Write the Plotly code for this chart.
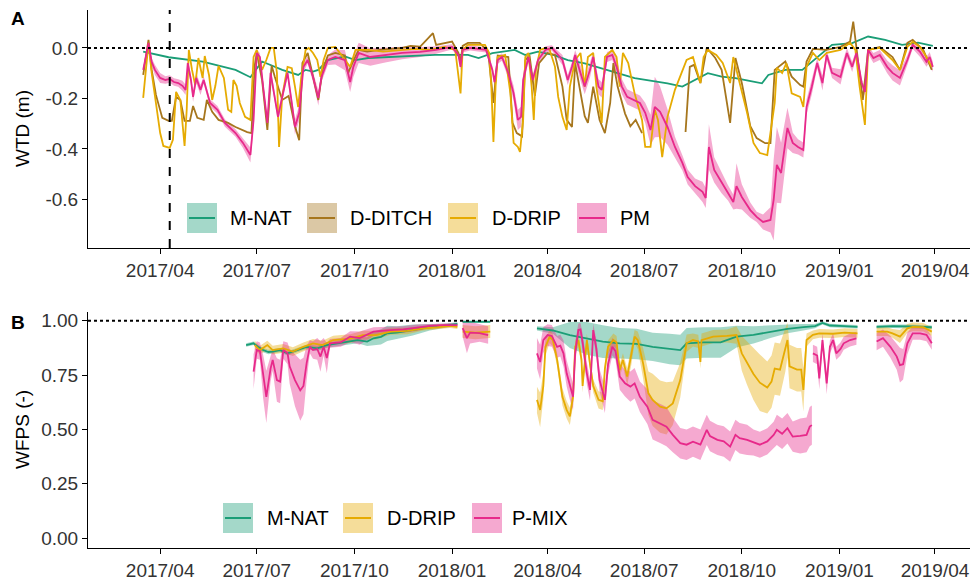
import plotly.graph_objects as go
import pandas as pd

BASE = pd.Timestamp("2017-04-01")  # day 0 of every *_day list

GREEN, BROWN, GOLD, PINK = "#1B9E77", "#A6761D", "#E6AB02", "#E7298A"
FONT = "Liberation Sans, Arial, sans-serif"

tick_dates = ["2017-04-01", "2017-07-01", "2017-10-01", "2018-01-01", "2018-04-01",
              "2018-07-01", "2018-10-01", "2019-01-01", "2019-04-01"]
tick_labels = ["2017/04", "2017/07", "2017/10", "2018/01", "2018/04",
               "2018/07", "2018/10", "2019/01", "2019/04"]

# ---------------- panel A : water table depth (m) ----------------
mnat_a_day = [-16, 8, 40, 71, 85, 90, 96, 115, 130, 137,
              144, 149, 158, 174, 184, 196, 228, 259, 290, 300,
              313, 334, 344, 356, 372, 384, 400, 416, 431, 447,
              463, 478, 492, 504, 516, 529, 542, 554, 567, 573,
              589, 605, 620, 633, 652, 667, 683, 699, 714, 728]
mnat_a_wtd = [-0.015, -0.037, -0.054, -0.087, -0.116, -0.087, -0.054, -0.087, -0.107, -0.087,
              -0.094, -0.087, -0.048, -0.034, -0.048, -0.040, -0.034, -0.028, -0.028, -0.040,
              -0.021, -0.008, -0.028, -0.015, -0.030, -0.048, -0.061, -0.080, -0.100, -0.120,
              -0.131, -0.140, -0.153, -0.127, -0.100, -0.114, -0.120, -0.130, -0.140, -0.107,
              -0.087, -0.087, -0.034, 0.012, 0.019, 0.045, 0.032, 0.012, 0.021, 0.008]

ditch_a_day = [-16, -11, -8, -4, 2, 8, 11, 15, 19, 23,
               28, 31, 35, 41, 44, 49, 55, 64, 71, 82,
               86, 89, 91, 96, 101, 105, 108, 115, 121, 127,
               131, 134, 139, 144, 149, 153, 158, 165, 174, 177,
               181, 187, 195, 207, 215, 228, 236, 245, 257, 260,
               275, 281, 283, 285, 290, 301, 309, 314, 318, 328,
               332, 336, 341, 344, 348, 353, 357, 365, 372, 379,
               383, 388, 391, 400, 403, 408, 414, 419, 424, 427,
               431, 438, 443, 448, 454, None, 495, 499, 503, 509,
               515, 523, 529, 537, 542, 548, 556, 562, 570, 575,
               579, 589, 595, 603, 606, 609, 615, 628, 641, 650,
               653, 656, 659, 662, 667, 678, 690, 697, 704, 709,
               719, 727]
ditch_a_wtd = [-0.107, 0.032, -0.087, -0.186, -0.277, -0.289, -0.289, -0.194, -0.206, -0.289,
               -0.289, -0.230, -0.277, -0.285, -0.206, -0.253, -0.285, -0.297, -0.313, -0.333,
               -0.337, -0.071, -0.020, -0.127, -0.325, -0.070, -0.114, -0.206, -0.190, -0.310,
               -0.365, -0.060, -0.020, -0.107, -0.206, -0.087, -0.030, -0.020, -0.030, -0.100,
               -0.060, -0.008, -0.015, -0.008, -0.004, 0.000, 0.008, 0.005, 0.058, 0.012,
               0.025, -0.020, -0.054, 0.008, 0.020, 0.020, -0.015, -0.218, -0.030, -0.036,
               -0.297, -0.337, -0.350, -0.048, -0.030, -0.190, -0.060, -0.020, -0.028, -0.153,
               -0.285, -0.313, -0.060, -0.270, -0.297, -0.153, -0.285, -0.337, -0.218, -0.060,
               -0.153, -0.260, -0.310, -0.285, -0.337, None, -0.333, -0.075, -0.067, -0.139,
               0.000, -0.040, -0.087, -0.297, -0.040, -0.139, -0.310, -0.357, -0.377, -0.377,
               -0.087, -0.054, -0.114, -0.147, -0.153, -0.054, -0.004, -0.008, 0.004, 0.025,
               0.104, 0.004, -0.114, -0.206, -0.008, 0.004, -0.036, -0.087, 0.020, 0.032,
               -0.008, -0.087]

drip_a_day = [-16, -11, -8, -4, 0, 3, 9, 12, 15, 19,
              23, 25, 27, 30, 33, 36, 40, 42, 46, 49,
              52, 55, 60, 64, 67, 69, 72, 75, 80, 85,
              88, 91, 96, 100, 104, 107, 110, 112, 115, 120,
              124, 127, 130, 133, 137, 140, 144, 148, 151, 154,
              158, 165, 174, 179, 184, 196, 210, 226, 240, 254,
              268, 278, 283, 285, 290, 306, 310, 312, 314, 316,
              318, 325, 330, 333, 337, 339, 342, 344, 347, 350,
              352, 354, 358, 363, 367, 372, 375, 379, 383, 386,
              391, 396, 400, 403, 408, 411, 416, 419, 426, 430,
              433, 436, 441, 447, 454, 457, 462, 466, 469, 473,
              476, 478, 485, 490, 496, 502, 509, 512, 516, 524,
              530, 537, 540, 546, 553, 559, 565, 572, 574, 579,
              581, 586, 590, 595, 603, 606, 609, 615, 621, 628,
              641, 650, 655, 659, 664, 667, 678, 690, 697, 704,
              709, 716, 722, 727]
drip_a_wtd = [-0.198, 0.020, -0.099, -0.226, -0.337, -0.388, -0.396, -0.364, -0.174, -0.206,
              -0.388, -0.245, -0.008, -0.087, -0.147, -0.040, -0.119, -0.032, -0.107, -0.206,
              -0.150, -0.071, -0.119, -0.245, -0.253, -0.127, -0.150, -0.218, -0.273, -0.285,
              -0.036, -0.008, -0.087, -0.048, 0.000, 0.000, -0.099, -0.392, -0.190, -0.075,
              -0.080, -0.153, -0.234, -0.115, -0.008, 0.000, -0.020, -0.048, -0.115, -0.048,
              0.000, 0.004, -0.048, -0.075, -0.008, -0.008, -0.015, -0.008, -0.004, -0.008,
              0.004, -0.008, -0.180, -0.008, 0.012, 0.012, -0.020, -0.153, -0.372, -0.153,
              -0.036, -0.028, -0.180, -0.376, -0.392, -0.412, -0.285, -0.036, -0.020, -0.153,
              -0.285, -0.087, -0.008, 0.000, -0.008, -0.075, -0.194, -0.273, -0.325, -0.153,
              -0.048, -0.020, -0.153, -0.036, -0.020, -0.153, -0.297, -0.036, -0.008, -0.036,
              -0.153, -0.020, -0.060, -0.180, -0.285, -0.392, -0.392, -0.245, -0.285, -0.432,
              -0.325, -0.273, -0.166, -0.115, -0.048, -0.036, -0.139, -0.036, -0.008, -0.028,
              -0.060, -0.139, -0.036, -0.139, -0.257, -0.376, -0.416, -0.424, -0.364, -0.218,
              -0.079, -0.099, -0.060, -0.180, -0.194, -0.234, -0.075, -0.020, -0.048, -0.020,
              -0.008, 0.020, -0.008, -0.153, -0.305, -0.008, 0.000, -0.048, -0.087, 0.004,
              0.024, 0.004, -0.036, -0.075]

pm_a_day = [-16, -11, -8, -5, 0, 5, 9, 13, 17, 21,
            24, 26, 29, 31, 34, 38, 41, 47, 54, 61,
            71, 78, 85, 88, 91, 94, 97, 101, 104, 108,
            111, 115, 120, 124, 127, 131, 135, 139, 144, 149,
            152, 158, 165, 174, 179, 182, 187, 198, 212, 228,
            245, 260, 275, 281, 283, 285, 292, 307, 313, 315,
            318, 322, 328, 333, 337, 340, 342, 347, 351, 356,
            363, 369, 379, 384, 388, 391, 396, 400, 405, 408,
            413, 416, 421, 426, 430, 435, 440, 446, 452, 457,
            462, 466, 471, 478, 485, 492, 497, 504, 511, 514,
            517, 522, 529, 535, 540, 543, 548, 556, 562, 568,
            575, 578, 581, 585, 591, 596, 601, 606, 609, 614,
            619, 624, 628, 633, 641, 647, 652, 656, 661, 664,
            667, 672, 678, 685, 690, 697, 704, 709, 716, 722,
            725, 728]
pm_a_wtd = [-0.087, 0.020, -0.055, -0.087, -0.119, -0.127, -0.123, -0.135, -0.139, -0.150,
            -0.166, -0.060, -0.127, -0.194, -0.119, -0.166, -0.127, -0.218, -0.245, -0.297,
            -0.337, -0.376, -0.424, -0.285, -0.020, -0.036, -0.153, -0.297, -0.099, -0.194,
            -0.273, -0.194, -0.099, -0.218, -0.313, -0.257, -0.075, -0.048, -0.115, -0.198,
            -0.115, -0.048, -0.036, -0.048, -0.135, -0.075, -0.020, -0.036, -0.028, -0.020,
            -0.016, -0.008, 0.004, -0.028, -0.075, -0.008, 0.000, -0.008, -0.087, -0.135,
            -0.048, -0.036, -0.099, -0.180, -0.285, -0.273, -0.127, -0.036, -0.127, -0.048,
            -0.008, 0.000, -0.048, -0.127, -0.075, -0.028, -0.099, -0.153, -0.087, -0.036,
            -0.153, -0.166, -0.036, -0.028, -0.075, -0.153, -0.194, -0.206, -0.218, -0.257,
            -0.325, -0.234, -0.253, -0.313, -0.392, -0.455, -0.511, -0.547, -0.570, -0.594,
            -0.392, -0.483, -0.535, -0.574, -0.610, -0.547, -0.590, -0.642, -0.669, -0.689,
            -0.681, -0.602, -0.463, -0.495, -0.317, -0.376, -0.392, -0.404, -0.234, -0.153,
            -0.060, -0.139, -0.028, -0.099, -0.115, -0.020, -0.075, -0.020, -0.139, -0.174,
            -0.008, -0.040, -0.028, -0.075, -0.099, -0.119, -0.048, 0.012, -0.016, -0.055,
            -0.036, -0.075]
pm_a_sd = [0.010, 0.010, 0.015, 0.020, 0.020, 0.015, 0.015, 0.015, 0.015, 0.020,
           0.020, 0.015, 0.020, 0.020, 0.020, 0.020, 0.015, 0.015, 0.015, 0.015,
           0.015, 0.020, 0.030, 0.030, 0.015, 0.015, 0.020, 0.020, 0.020, 0.020,
           0.020, 0.020, 0.015, 0.020, 0.030, 0.030, 0.020, 0.015, 0.020, 0.030,
           0.020, 0.020, 0.030, 0.040, 0.040, 0.040, 0.040, 0.035, 0.030, 0.025,
           0.020, 0.015, 0.010, 0.010, 0.015, 0.010, 0.010, 0.010, 0.015, 0.015,
           0.015, 0.015, 0.020, 0.030, 0.040, 0.040, 0.030, 0.015, 0.020, 0.015,
           0.015, 0.010, 0.020, 0.020, 0.020, 0.020, 0.030, 0.030, 0.030, 0.020,
           0.030, 0.030, 0.020, 0.020, 0.030, 0.030, 0.030, 0.030, 0.030, 0.040,
           0.060, 0.120, 0.100, 0.070, 0.040, 0.030, 0.030, 0.030, 0.040, 0.040,
           0.090, 0.050, 0.040, 0.030, 0.030, 0.090, 0.050, 0.030, 0.020, 0.030,
           0.050, 0.160, 0.150, 0.120, 0.080, 0.040, 0.030, 0.030, 0.030, 0.030,
           0.020, 0.030, 0.020, 0.020, 0.030, 0.020, 0.020, 0.015, 0.015, 0.015,
           0.015, 0.020, 0.020, 0.025, 0.030, 0.030, 0.020, 0.015, 0.020, 0.020,
           0.020, 0.020]

# ---------------- panel B : water-filled pore space (-) ----------------
mnat_b_day = [81, 88, 92, 97, 102, 106, 113, 120, 129, 138,
              148, 157, 167, 176, 186, 195, 201, 208, 214, 223,
              238, 254, 267, 280, None, 285, 311, None, 355, 370,
              386, 402, 417, 433, 449, 464, 480, 490, 496, 512,
              528, 543, 559, 575, 591, 606, 617, 624, 631, 645,
              657, None, 675, 690, 706, 727]
mnat_b_wfps = [0.888, 0.896, 0.880, 0.865, 0.856, 0.858, 0.865, 0.850, 0.865, 0.880,
               0.873, 0.888, 0.896, 0.904, 0.911, 0.904, 0.919, 0.926, 0.942, 0.945,
               0.957, 0.970, 0.976, 0.985, None, 0.995, 0.995, None, 0.965, 0.955,
               0.934, 0.919, 0.904, 0.896, 0.893, 0.880, 0.870, 0.865, 0.896, 0.900,
               0.900, 0.927, 0.935, 0.950, 0.962, 0.970, 0.975, 0.990, 0.978, 0.975,
               0.972, None, 0.972, 0.975, 0.974, 0.970]
mnat_b_sd = [0.008, 0.008, 0.008, 0.010, 0.010, 0.010, 0.010, 0.010, 0.010, 0.010,
             0.012, 0.012, 0.012, 0.015, 0.015, 0.020, 0.030, 0.035, 0.035, 0.030,
             0.025, 0.015, 0.010, 0.008, None, 0.005, 0.005, None, 0.010, 0.015,
             0.060, 0.075, 0.075, 0.070, 0.070, 0.065, 0.070, 0.070, 0.070, 0.070,
             0.070, 0.050, 0.040, 0.030, 0.020, 0.015, 0.010, 0.008, 0.008, 0.008,
             0.008, None, 0.008, 0.008, 0.008, 0.008]

drip_b_day = [89, 94, 101, 106, 116, 125, 135, 144, 153, 163,
              179, 191, 203, 217, 233, 248, 261, 273, 280, None,
              285, 297, 311, None, 355, 358, 361, 363, 367, 370,
              374, 379, 383, 386, 389, 391, 394, 397, 398, 402,
              405, 408, 413, 417, 419, 422, 427, 430, 433, 436,
              440, 444, 447, 450, 455, 460, 464, 471, 477, 483,
              490, 496, 502, 507, 509, 510, 521, 534, 543, 548,
              553, 559, 565, 572, 576, 579, 584, 589, 591, 593,
              600, 604, 606, 609, 615, 621, 634, 645, 657, None,
              675, 685, 690, 697, 704, 709, 719, 725, 727]
drip_b_wfps = [0.888, 0.865, 0.888, 0.865, 0.873, 0.858, 0.880, 0.896, 0.888, 0.911,
               0.918, 0.934, 0.934, 0.950, 0.953, 0.965, 0.970, 0.976, 0.972, None,
               0.950, 0.945, 0.950, None, 0.636, 0.590, 0.700, 0.880, 0.927, 0.910,
               0.820, 0.650, 0.590, 0.560, 0.650, 0.880, 0.911, 0.820, 0.700, 0.911,
               0.800, 0.700, 0.636, 0.630, 0.780, 0.880, 0.911, 0.900, 0.773, 0.820,
               0.743, 0.840, 0.927, 0.910, 0.804, 0.666, 0.636, 0.605, 0.597, 0.620,
               0.727, 0.896, 0.911, 0.905, 0.810, 0.911, 0.927, 0.930, 0.934, 0.850,
               0.804, 0.755, 0.715, 0.693, 0.720, 0.780, 0.775, 0.865, 0.911, 0.790,
               0.775, 0.775, 0.682, 0.911, 0.935, 0.942, 0.940, 0.945, 0.942, None,
               0.950, 0.950, 0.942, 0.927, 0.965, 0.972, 0.970, 0.955, 0.950]
drip_b_sd = [0.020, 0.020, 0.020, 0.020, 0.020, 0.020, 0.020, 0.020, 0.020, 0.020,
             0.020, 0.020, 0.020, 0.015, 0.015, 0.010, 0.010, 0.010, 0.010, None,
             0.030, 0.030, 0.030, None, 0.060, 0.080, 0.060, 0.040, 0.030, 0.030,
             0.030, 0.040, 0.040, 0.040, 0.040, 0.030, 0.030, 0.030, 0.030, 0.030,
             0.030, 0.030, 0.040, 0.040, 0.030, 0.030, 0.030, 0.030, 0.030, 0.030,
             0.040, 0.040, 0.030, 0.040, 0.070, 0.100, 0.120, 0.120, 0.120, 0.100,
             0.080, 0.040, 0.030, 0.030, 0.030, 0.030, 0.030, 0.030, 0.040, 0.080,
             0.100, 0.120, 0.130, 0.120, 0.120, 0.120, 0.120, 0.100, 0.080, 0.100,
             0.100, 0.100, 0.100, 0.030, 0.020, 0.020, 0.020, 0.020, 0.020, None,
             0.020, 0.020, 0.020, 0.030, 0.020, 0.020, 0.020, 0.020, 0.020]

pmix_b_day = [88, 91, 94, 97, 100, 104, 106, 110, 113, 116,
              120, 122, 127, 132, 135, 138, 141, 144, 148, 151,
              154, 157, 160, 170, 179, 188, 201, 217, 229, 242,
              254, 267, 280, None, 285, 289, 292, 301, 309, None,
              355, 358, 361, 365, 369, 374, 377, 380, 383, 386,
              389, 391, 394, 396, 398, 402, 405, 407, 408, 411,
              414, 419, 422, 426, 429, 433, 438, 443, 447, 452,
              459, 464, 471, 477, 483, 490, 496, 502, 509, 515,
              518, 525, 531, 537, 542, 546, 553, 559, 565, 572,
              578, 581, 586, 591, 596, 603, 609, 612, 614, None,
              615, 619, 621, 624, 628, 631, 634, 637, 641, 644,
              650, 656, None, 675, 681, 688, 694, 697, 700, 704,
              709, 716, 722, 727]
pmix_b_wfps = [0.766, 0.865, 0.860, 0.743, 0.650, 0.780, 0.820, 0.727, 0.720, 0.865,
               0.850, 0.790, 0.727, 0.680, 0.700, 0.805, 0.880, 0.865, 0.870, 0.835,
               0.880, 0.828, 0.896, 0.900, 0.927, 0.920, 0.950, 0.957, 0.960, 0.968,
               0.976, 0.980, 0.980, None, 0.966, 0.920, 0.945, 0.943, 0.934, None,
               0.850, 0.810, 0.911, 0.934, 0.930, 0.880, 0.885, 0.850, 0.758, 0.697,
               0.650, 0.850, 0.957, 0.960, 0.900, 0.758, 0.682, 0.850, 0.957, 0.870,
               0.727, 0.636, 0.800, 0.880, 0.860, 0.743, 0.712, 0.697, 0.712, 0.650,
               0.605, 0.544, 0.528, 0.513, 0.475, 0.437, 0.430, 0.444, 0.430, 0.498,
               0.470, 0.452, 0.445, 0.421, 0.475, 0.460, 0.452, 0.440, 0.430, 0.445,
               0.475, 0.498, 0.480, 0.506, 0.467, 0.470, 0.475, 0.513, 0.520, None,
               0.850, 0.840, 0.735, 0.911, 0.712, 0.880, 0.911, 0.850, 0.870, 0.896,
               0.911, 0.919, None, 0.904, 0.920, 0.880, 0.835, 0.796, 0.800, 0.896,
               0.942, 0.942, 0.935, 0.896]
pmix_b_sd = [0.080, 0.040, 0.040, 0.100, 0.120, 0.060, 0.050, 0.100, 0.100, 0.040,
             0.050, 0.080, 0.120, 0.140, 0.130, 0.080, 0.030, 0.040, 0.050, 0.070,
             0.040, 0.070, 0.020, 0.020, 0.025, 0.030, 0.020, 0.015, 0.015, 0.015,
             0.010, 0.010, 0.010, None, 0.040, 0.070, 0.050, 0.040, 0.040, None,
             0.070, 0.080, 0.060, 0.050, 0.050, 0.050, 0.050, 0.060, 0.060, 0.060,
             0.060, 0.050, 0.030, 0.030, 0.040, 0.050, 0.050, 0.040, 0.030, 0.040,
             0.050, 0.060, 0.050, 0.040, 0.040, 0.060, 0.060, 0.070, 0.070, 0.070,
             0.080, 0.090, 0.090, 0.090, 0.080, 0.070, 0.070, 0.070, 0.070, 0.070,
             0.070, 0.070, 0.070, 0.070, 0.070, 0.070, 0.070, 0.060, 0.060, 0.060,
             0.060, 0.070, 0.070, 0.070, 0.070, 0.080, 0.080, 0.090, 0.090, None,
             0.040, 0.040, 0.050, 0.030, 0.050, 0.030, 0.030, 0.030, 0.030, 0.030,
             0.030, 0.030, None, 0.040, 0.040, 0.050, 0.060, 0.080, 0.070, 0.050,
             0.030, 0.030, 0.030, 0.030]


def fill(hex_color, a=0.4):
    h = hex_color.lstrip("#")
    return f"rgba({int(h[0:2], 16)},{int(h[2:4], 16)},{int(h[4:6], 16)},{a})"


def dates(days):
    return [None if d is None else BASE + pd.Timedelta(days=d) for d in days]


def add_ribbon(fig, days, vals, sd, color, ax):
    seg = []
    for d, v, s in list(zip(days, vals, sd)) + [(None, None, None)]:
        if d is not None:
            seg.append((d, v, s))
            continue
        if seg:
            xs = [BASE + pd.Timedelta(days=p[0]) for p in seg]
            hi = [p[1] + p[2] for p in seg]
            lo = [p[1] - p[2] for p in seg]
            fig.add_trace(go.Scatter(
                x=xs + xs[::-1], y=hi + lo[::-1], mode="lines", fill="toself",
                fillcolor=fill(color), line=dict(width=0, color=fill(color)),
                hoverinfo="skip", showlegend=False, xaxis=ax[0], yaxis=ax[1],
            ))
        seg = []


def add_line(fig, days, vals, color, ax, name):
    fig.add_trace(go.Scatter(
        x=dates(days), y=vals, mode="lines", name=name, connectgaps=False,
        line=dict(color=color, width=1.8), showlegend=False, xaxis=ax[0], yaxis=ax[1],
    ))


A, B = ("x", "y"), ("x2", "y2")
fig = go.Figure()

add_ribbon(fig, pm_a_day, pm_a_wtd, pm_a_sd, PINK, A)
add_line(fig, mnat_a_day, mnat_a_wtd, GREEN, A, "M-NAT")
add_line(fig, ditch_a_day, ditch_a_wtd, BROWN, A, "D-DITCH")
add_line(fig, drip_a_day, drip_a_wtd, GOLD, A, "D-DRIP")
add_line(fig, pm_a_day, pm_a_wtd, PINK, A, "PM")

add_ribbon(fig, mnat_b_day, mnat_b_wfps, mnat_b_sd, GREEN, B)
add_ribbon(fig, drip_b_day, drip_b_wfps, drip_b_sd, GOLD, B)
add_ribbon(fig, pmix_b_day, pmix_b_wfps, pmix_b_sd, PINK, B)
add_line(fig, mnat_b_day, mnat_b_wfps, GREEN, B, "M-NAT")
add_line(fig, drip_b_day, drip_b_wfps, GOLD, B, "D-DRIP")
add_line(fig, pmix_b_day, pmix_b_wfps, PINK, B, "P-MIX")

# pixel helpers for the hand-built legends / labels
L, T, WP, HP = 88, 10, 882, 538


def px(x):
    return (x - L) / WP


def py(y):
    return (T + HP - y) / HP


axis_style = dict(showline=True, linecolor="black", linewidth=1, ticks="outside", ticklen=5,
                  tickcolor="black", tickwidth=1, showgrid=False, zeroline=False,
                  automargin=False, tickfont=dict(size=19, color="#333333"))
x_style = dict(axis_style, range=["2017-01-23", "2019-05-04"], tickvals=tick_dates, ticktext=tick_labels)

fig.update_layout(
    width=972, height=580,
    margin=dict(l=L, r=972 - L - WP, t=T, b=580 - T - HP, autoexpand=False),
    paper_bgcolor="white", plot_bgcolor="white",
    font=dict(family=FONT, color="black"),
    showlegend=False,
    xaxis=dict(x_style, domain=[0, 1], anchor="y"),
    xaxis2=dict(x_style, domain=[0, 1], anchor="y2"),
    yaxis=dict(axis_style, domain=[py(248), 1], range=[-0.792, 0.150],
               tickvals=[0, -0.2, -0.4, -0.6], ticktext=["0.0", "-0.2", "-0.4", "-0.6"]),
    yaxis2=dict(axis_style, domain=[0, py(312)], range=[-0.045, 1.04],
                tickvals=[1, 0.75, 0.5, 0.25, 0], ticktext=["1.00", "0.75", "0.50", "0.25", "0.00"]),
)

shapes = [
    dict(type="line", xref="paper", x0=0, x1=1, yref="y", y0=0, y1=0,
         line=dict(color="black", width=2, dash="dot")),
    dict(type="line", xref="paper", x0=0, x1=1, yref="y2", y0=1, y1=1,
         line=dict(color="black", width=2, dash="dot")),
    dict(type="line", xref="x", x0="2017-04-10", x1="2017-04-10", yref="y domain", y0=0, y1=1,
         line=dict(color="black", width=2, dash="dash")),
]
annotations = [
    dict(text="<b>A</b>", x=px(18), y=py(18)),
    dict(text="<b>B</b>", x=px(18), y=py(322)),
    dict(text="WTD (m)", x=px(22), y=py(129), textangle=-90),
    dict(text="WFPS (-)", x=px(22), y=py(430), textangle=-90),
]

legend_a = [("M-NAT", GREEN, 187, 228), ("D-DITCH", BROWN, 307, 348),
            ("D-DRIP", GOLD, 448, 490), ("PM", PINK, 577, 618)]
legend_b = [("M-NAT", GREEN, 223, 265), ("D-DRIP", GOLD, 343, 385), ("P-MIX", PINK, 472, 510)]
for items, yc in ((legend_a, 218), (legend_b, 518)):
    for label, color, bx, tx in items:
        shapes.append(dict(type="rect", xref="paper", yref="paper",
                           x0=px(bx), x1=px(bx + 30), y0=py(yc + 15), y1=py(yc - 15),
                           fillcolor=fill(color), line=dict(width=0)))
        shapes.append(dict(type="line", xref="paper", yref="paper",
                           x0=px(bx + 2), x1=px(bx + 28), y0=py(yc), y1=py(yc),
                           line=dict(color=color, width=2)))
        annotations.append(dict(text=label, x=px(tx), y=py(yc), xanchor="left",
                                font=dict(size=20, color="black")))

for a in annotations:
    a.setdefault("xanchor", "center")
    a.update(xref="paper", yref="paper", yanchor="middle", showarrow=False)
    a.setdefault("font", dict(size=19, color="black"))

fig.update_layout(shapes=shapes, annotations=annotations)

# drop the browser's default 8px body margin so the figure sits at the page origin
fig.write_html(
    "out.html",
    config={"displayModeBar": False},
    post_script="document.body.style.margin='0';document.body.style.overflow='hidden';",
)
